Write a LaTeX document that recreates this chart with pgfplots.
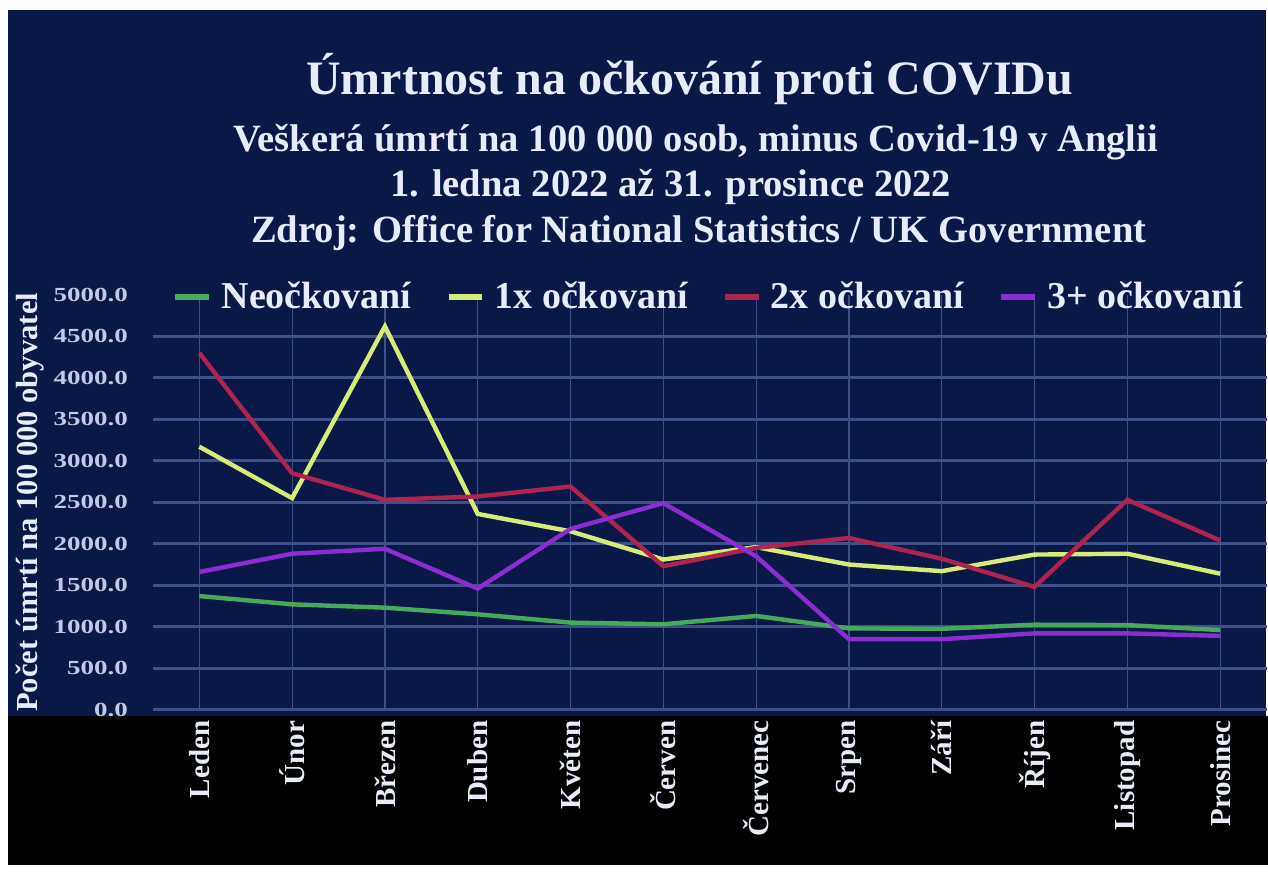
\documentclass[border=0pt]{standalone}
\usepackage{pgfplots}
\pgfplotsset{compat=1.18}
\usepackage{fontspec}
\setmainfont{Liberation Serif}
\newfontfamily\tickfont{Liberation Serif}[FakeStretch=1.35]
\definecolor{navy}{RGB}{10,24,72}
\definecolor{gridc}{RGB}{62,80,138}
\definecolor{zeroc}{RGB}{85,100,155}
\definecolor{cgreen}{RGB}{70,170,90}
\definecolor{cyellow}{RGB}{215,235,120}
\definecolor{cred}{RGB}{175,35,80}
\definecolor{cpurple}{RGB}{140,45,210}
\definecolor{txt}{RGB}{232,235,248}
\definecolor{ticktxt}{RGB}{195,200,228}
\begin{document}
\begin{tikzpicture}
\fill[white] (0pt,0pt) rectangle (634pt,436pt);
\fill[navy] (4pt,78pt) rectangle (633pt,431pt);
\fill[black] (4pt,3.5pt) rectangle (634pt,78pt);
\begin{axis}[
  at={(76.5pt,81pt)}, anchor=south west, scale only axis,
  width=557pt, height=207.5pt,
  xmin=-0.5, xmax=11.5, ymin=0, ymax=5000,
  xtick={0,...,11},
  xticklabels={Leden,Únor,Březen,Duben,Květen,Červen,Červenec,Srpen,Září,Říjen,Listopad,Prosinec},
  ytick={0,500,...,4500},
  yticklabels={0.0,500.0,1000.0,1500.0,2000.0,2500.0,3000.0,3500.0,4000.0,4500.0},
  extra y ticks={5000}, extra y tick labels={5000.0},
  extra y tick style={grid=none},
  axis line style={draw=none}, major tick length=0pt,
  xmajorgrids, ymajorgrids,
  x grid style={gridc, line width=0.6pt},
  y grid style={gridc, line width=1.5pt},
  yticklabel style={text=ticktxt, font=\tickfont\bfseries\fontsize{10}{12}\selectfont, xshift=-9pt},
  xticklabel style={yshift=-2pt, rotate=90, anchor=east, text=txt, font=\bfseries\fontsize{14.5}{17}\selectfont},
  ylabel={Počet úmrtí na 100 000 obyvatel},
  ylabel style={at={(axis description cs:-0.110,0.5)}, anchor=center, text=txt, font=\bfseries\fontsize{15.3}{18}\selectfont},
  legend style={at={(0.5,0.995)}, anchor=center, legend columns=4, draw=none, fill=none, text=txt,
    font=\bfseries\fontsize{19}{22}\selectfont,
    /tikz/every even column/.append style={column sep=15pt}},
  legend image code/.code={\draw[#1, line width=3pt] (0pt,0pt) -- (17pt,0pt); \path (20pt,0pt);},
]
\addplot[cgreen, line width=2.2pt] coordinates {(0,1370) (1,1270) (2,1230) (3,1150) (4,1050) (5,1030) (6,1130) (7,980) (8,975) (9,1025) (10,1020) (11,960)};
\addlegendentry{Neočkovaní}
\addplot[cyellow, line width=2.2pt] coordinates {(0,3170) (1,2550) (2,4620) (3,2360) (4,2150) (5,1810) (6,1960) (7,1750) (8,1670) (9,1870) (10,1880) (11,1640)};
\addlegendentry{1x očkovaní}
\addplot[cred, line width=2.2pt] coordinates {(0,4300) (1,2850) (2,2530) (3,2570) (4,2690) (5,1730) (6,1950) (7,2070) (8,1820) (9,1480) (10,2530) (11,2040)};
\addlegendentry{2x očkovaní}
\addplot[cpurple, line width=2.2pt] coordinates {(0,1660) (1,1880) (2,1940) (3,1460) (4,2180) (5,2490) (6,1850) (7,850) (8,850) (9,920) (10,920) (11,890)};
\addlegendentry{3+ očkovaní}
\end{axis}
\node[anchor=base, text=txt, font=\bfseries\fontsize{24}{28}\selectfont] at (345pt,388.5pt) {Úmrtnost na očkování proti COVIDu};
\node[anchor=base, text=txt, font=\bfseries\fontsize{19.3}{23}\selectfont] at (348pt,360pt) {Veškerá úmrtí na 100 000 osob, minus Covid-19 v Anglii};
\node[anchor=base, text=txt, font=\bfseries\fontsize{19.3}{23}\selectfont] at (335.5pt,337.5pt) {1. ledna 2022 až 31. prosince 2022};
\node[anchor=base, text=txt, font=\bfseries\fontsize{19.3}{23}\selectfont] at (349.5pt,314.5pt) {Zdroj: Office for National Statistics / UK Government};
\end{tikzpicture}
\end{document}
